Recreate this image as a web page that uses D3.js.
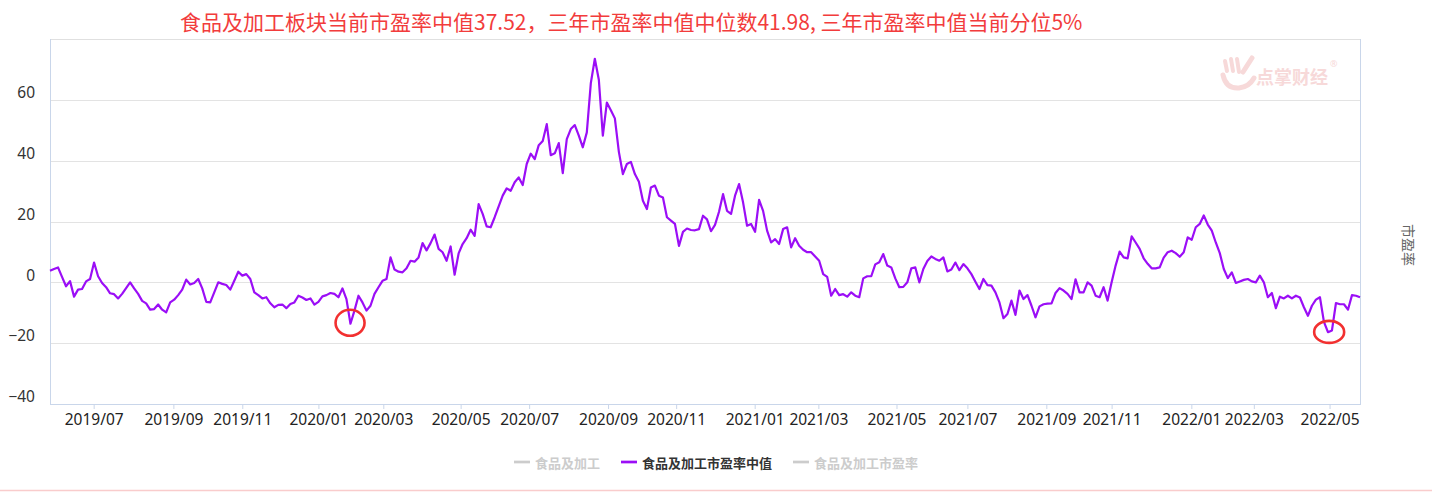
<!DOCTYPE html>
<html><head><meta charset="utf-8">
<script src="https://cdn.jsdelivr.net/npm/d3@7/dist/d3.min.js"></script>
<style>
html,body{margin:0;padding:0;background:#fff;}
svg{display:block;}
text{font-family:"Noto Sans","Noto Sans CJK SC",sans-serif;}
</style></head>
<body><svg id="chart" width="1432" height="492"></svg>
<script>
// ---------- data ----------
const titleText = "食品及加工板块当前市盈率中值37.52，三年市盈率中值中位数41.98, 三年市盈率中值当前分位5%";
const seriesNames = ["食品及加工", "食品及加工市盈率中值", "食品及加工市盈率"];
const seriesActive = [false, true, false];
const axisName = "市盈率";
const yTicks = [60, 40, 20, 0, -20, -40];
const xTickLabels = ["2019/07","2019/09","2019/11","2020/01","2020/03","2020/05","2020/07","2020/09","2020/11",
  "2021/01","2021/03","2021/05","2021/07","2021/09","2021/11","2022/01","2022/03","2022/05"];
const xTickIdx = [10.9,30.8,48.0,67.0,83.2,102.5,119.6,139.3,156.3,175.9,191.8,211.3,229.0,248.7,265.0,284.9,300.5,319.4];
const peValues = [
  3.8,4.4,4.9,1.8,-1.3,0.4,-4.7,-2.4,-2.2,0.3,
  1.1,6.5,2,-0.2,-1.6,-3.6,-3.9,-5.3,-3.8,-1.9,
  0,-2,-3.8,-6.1,-6.9,-9,-8.8,-7.3,-9,-9.9,
  -6.6,-5.7,-4.2,-2.4,0.9,-0.7,-0.2,1.1,-2,-6.4,
  -6.6,-3.3,0,-0.5,-0.9,-2.4,0.5,3.5,2.2,2.7,
  1.1,-3.3,-4.2,-5.3,-4.9,-6.9,-8.2,-7.4,-7.3,-8.5,
  -7.1,-6.6,-4.4,-5,-5.8,-5.3,-7.3,-6.4,-4.6,-4.2,
  -3.5,-3.8,-4.9,-2,-5.5,-13.6,-9.3,-4.4,-6.6,-9.3,
  -7.7,-3.8,-1.6,0.5,
  1.1,8.2,4.2,3.5,3.3,4.6,7.1,6.8,8.2,12.9,
  10.5,12.9,15.7,11,9.9,7.1,11.8,2.5,9.5,12.6,
  14.5,17.3,15.3,25.7,22.5,18.4,18.1,21.4,25,28.5,
  30.9,30.1,32.9,34.5,32,38.9,42.3,40.5,45.1,46.5,
  52,41.8,42.4,45.8,35.9,47.1,50.4,51.7,48.2,44.4,
  49.3,65.5,73.5,66.6,48.2,59.1,56.6,53.9,42.9,35.6,
  38.9,39.6,35.6,33.1,26.8,24.1,31.2,31.8,28.5,27.9,
  21.4,20.3,19.2,12,16.6,17.7,17.2,17.1,17.5,21.9,
  20.7,16.8,
  18.9,23.2,29,23.5,22.5,28.5,32.3,26.3,18.6,19.2,
  16.6,27.1,23.5,17,13.1,14.2,12.6,17.5,18.1,11.5,
  14.5,12,10.7,9.9,9.9,8.5,7.1,2.7,1.8,-4.4,
  -2.2,-4.2,-3.9,-4.7,-3.3,-4.4,-4.9,1.3,2,2,
  5.9,6.6,9.3,5.5,4.9,1.3,-1.6,-1.5,0,4.6,
  4.9,0,4.4,7,8.5,7.7,7.1,8.2,3.6,4.2,
  6.5,4,6,4.6,2.7,0.2,-2.2,1.1,-0.9,-1.1,
  -3.3,-6.6,-11.8,-10.4,-6,-10.7,-2.7,-5.5,-4.2,-7.7,
  -11.5,-7.9,
  -7.2,-7,-6.9,-3.5,-1.9,-2.7,-3.8,-5.5,1,-3.3,
  -3.3,0,-1.1,-4.4,-4.9,-1.6,-6,0,5.5,10.1,
  8.2,7.9,15.1,13.1,11,7.9,6.1,4.6,4.6,4.9,
  8.1,9.9,10.4,9.6,8.4,9.9,14.8,14,18.1,19.2,
  22,19,17,13.1,9.6,4.4,1.4,3.3,-0.2,0.3,
  0.8,1.1,0.3,0,2.2,0,-4.9,-3.5,-8.5,-4.7,
  -5.3,-4.4,-5.3,-4.4,-5,-8.2,-11,-7.7,-5.7,-4.9,
  -13,-16.4,-15.8,-6.8,-7.2,-7.2,-9,-4.2,-4.4,-4.9
];
// annotation circles: [index, value]
const marks = [[74.9, -13.3], [319.3, -16.3]];

// ---------- chart ----------
const W = 1432, H = 492;
const plot = {l: 50, r: 1360, t: 39, b: 404};
const svg = d3.select("#chart");
const x = d3.scaleLinear().domain([0, peValues.length - 1]).range([plot.l, plot.r]);
const y = d3.scaleLinear().domain([-40, 80]).range([plot.b, plot.t]);

svg.append("rect").attr("width", W).attr("height", H).attr("fill", "#fff");

// title
svg.append("text").attr("x", 180).attr("y", 30)
  .attr("font-size", 21).attr("fill", "#f23c3c")
  .style("font-family", '"Noto Sans CJK SC",sans-serif')
  .text(titleText);

// watermark
const wm = svg.append("g").attr("fill", "#f7d9d9").attr("stroke", "#f7d9d9");
wm.append("line").attr("x1",1225).attr("y1",61).attr("x2",1227).attr("y2",71).attr("stroke-width",4).attr("stroke-linecap","round");
wm.append("line").attr("x1",1231).attr("y1",59).attr("x2",1233).attr("y2",71).attr("stroke-width",4).attr("stroke-linecap","round");
wm.append("line").attr("x1",1237).attr("y1",59).attr("x2",1239).attr("y2",72).attr("stroke-width",4).attr("stroke-linecap","round");
wm.append("line").attr("x1",1252).attr("y1",58).attr("x2",1243).attr("y2",72).attr("stroke-width",5).attr("stroke-linecap","round");
wm.append("path").attr("d","M1223,75 Q1226,89 1239,88 Q1249,87 1254,78").attr("fill","none").attr("stroke-width",5).attr("stroke-linecap","round");
wm.append("text").attr("x",1256).attr("y",84).attr("font-size",18).attr("font-weight","bold").attr("stroke","none")
  .style("font-family",'"Noto Sans CJK SC",sans-serif').text("点掌财经");
wm.append("text").attr("x",1330).attr("y",67).attr("font-size",9).attr("stroke","none").text("®");

// grid
svg.append("g").selectAll("line").data(yTicks.filter(v => v > -40)).join("line")
  .attr("x1", plot.l).attr("x2", plot.r)
  .attr("y1", d => Math.round(y(d)) + 0.5).attr("y2", d => Math.round(y(d)) + 0.5)
  .attr("stroke", "#e3e3e3");
// top border
svg.append("line").attr("x1", plot.l).attr("x2", plot.r + 1)
  .attr("y1", Math.round(y(80)) + 0.5).attr("y2", Math.round(y(80)) + 0.5).attr("stroke", "#e0e0e0");
// left / right axis lines
[plot.l, plot.r].forEach(px => {
  svg.append("line").attr("x1", px + 0.5).attr("x2", px + 0.5)
    .attr("y1", plot.t).attr("y2", plot.b).attr("stroke", "#c9d6ea");
});

// y labels
const yAxis = svg.append("g").attr("transform", `translate(${plot.l},0)`)
  .call(d3.axisLeft(y).tickValues(yTicks).tickSize(0).tickPadding(15)
    .tickFormat(d => d < 0 ? "−" + Math.abs(d) : d));
yAxis.select(".domain").remove();
yAxis.selectAll("text").attr("font-size", 15.5).attr("fill", "#333")
  .style("font-family", '"Noto Sans",sans-serif').attr("dy", "-0.15em");

// x axis
const xAxis = svg.append("g").attr("transform", `translate(0,${plot.b})`)
  .call(d3.axisBottom(x).tickValues(xTickIdx).tickSize(5).tickPadding(5)
    .tickFormat((d, i) => xTickLabels[i]));
xAxis.select(".domain").attr("stroke", "#c9d6ea").attr("d", `M${plot.l},0.5H${plot.r + 1}`);
xAxis.selectAll(".tick line").attr("stroke", "#c9d6ea");
xAxis.selectAll("text").attr("font-size", 15.5).attr("fill", "#222")
  .style("font-family", '"Noto Sans",sans-serif');

// line
const line = d3.line().x((d, i) => x(i)).y(d => y(d));
svg.append("path").datum(peValues).attr("d", line)
  .attr("fill", "none").attr("stroke", "#9b0ef6").attr("stroke-width", 2.2)
  .attr("stroke-linejoin", "round");

// annotation circles
svg.append("g").selectAll("ellipse").data(marks).join("ellipse")
  .attr("cx", d => x(d[0])).attr("cy", d => y(d[1]))
  .attr("rx", (d, i) => i === 0 ? 14.5 : 15).attr("ry", (d, i) => i === 0 ? 13 : 11)
  .attr("fill", "none").attr("stroke", "#f23030").attr("stroke-width", 2.6);

// right axis name
svg.append("text").attr("transform", "translate(1409,245) rotate(90)")
  .attr("text-anchor", "middle").attr("dominant-baseline", "central")
  .attr("font-size", 14).attr("fill", "#666")
  .style("font-family", '"Noto Sans CJK SC",sans-serif').text(axisName);

// legend
const lg = svg.append("g");
const items = seriesNames.map((n, i) => {
  const g = lg.append("g");
  g.append("line").attr("x1", 0).attr("x2", 16).attr("y1", 0).attr("y2", 0)
    .attr("stroke", seriesActive[i] ? "#9b0ef6" : "#cccccc").attr("stroke-width", 2.7);
  const t = g.append("text").attr("x", 21).attr("y", 0).attr("dominant-baseline", "central")
    .attr("font-size", 13).attr("font-weight", "bold")
    .attr("fill", seriesActive[i] ? "#333" : "#cccccc")
    .style("font-family", '"Noto Sans CJK SC",sans-serif').text(n);
  return {g, w: 21 + t.node().getComputedTextLength()};
});
const gap = 21;
const total = d3.sum(items, d => d.w) + gap * (items.length - 1);
let cx = W / 2 - total / 2;
items.forEach(it => { it.g.attr("transform", `translate(${cx},462)`); cx += it.w + gap; });

// bottom pink border
svg.append("line").attr("x1", 0).attr("x2", W).attr("y1", 490.5).attr("y2", 490.5)
  .attr("stroke", "#f9cccc").attr("stroke-width", 1.5);
</script></body></html>
